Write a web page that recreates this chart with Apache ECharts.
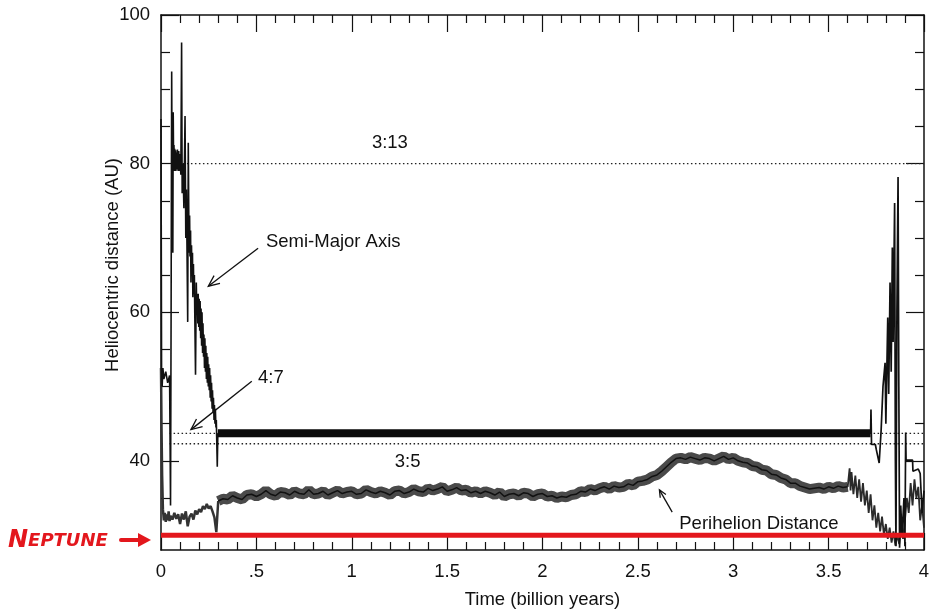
<!DOCTYPE html>
<html>
<head>
<meta charset="utf-8">
<script src="https://cdn.jsdelivr.net/npm/echarts@6/dist/echarts.min.js"></script>
<style>
  html, body { margin: 0; padding: 0; background: #fff; }
  #chart { width: 930px; height: 610px; }
</style>
</head>
<body>
<div id="chart"></div>
<script>
// tick labels
var xTickLabels = ['0', '.5', '1', '1.5', '2', '2.5', '3', '3.5', '4'];
var yMajorTicks = [40, 60, 80, 100];
var yMinorTicks = [30, 35, 45, 50, 55, 65, 70, 75, 85, 90, 95];

// semi-major axis (AU) vs time (billion years)
var semiMajorEarly = [
  [0, 86], [0.003, 52.5], [0.006, 50], [0.01, 52.5], [0.015, 51], [0.025, 52], [0.035, 50.5], [0.045, 51.5],
  [0.05, 34], [0.053, 60], [0.056, 92.4], [0.059, 72], [0.062, 68], [0.064, 86.9], [0.066, 80.5],
  [0.068, 82.5], [0.07, 79], [0.072, 82], [0.074, 79.5], [0.076, 81.8], [0.078, 79], [0.08, 81.5],
  [0.083, 79.2], [0.086, 81.9], [0.09, 79], [0.093, 81.7], [0.096, 79], [0.1, 81.3],
  [0.104, 78.5], [0.108, 96.3], [0.111, 76], [0.115, 80], [0.12, 74], [0.126, 86.4], [0.13, 70],
  [0.133, 76.5], [0.135, 72], [0.14, 58.7], [0.143, 82.8], [0.147, 68], [0.15, 73], [0.152, 67.5],
  [0.155, 71], [0.157, 64], [0.16, 69], [0.162, 65], [0.165, 68], [0.167, 62], [0.17, 66.5],
  [0.172, 62.5], [0.175, 65], [0.177, 60], [0.181, 51.6], [0.185, 64], [0.188, 60], [0.19, 62.5],
  [0.193, 58.5], [0.195, 62.5], [0.198, 58], [0.2, 61.8], [0.203, 57.5], [0.205, 61.5], [0.208, 56.5],
  [0.21, 60.5], [0.213, 55.5], [0.215, 60], [0.218, 54.5], [0.22, 58.5], [0.223, 54], [0.225, 57],
  [0.228, 52.5], [0.23, 56.5], [0.233, 52], [0.235, 55.5], [0.238, 51], [0.24, 54.5], [0.243, 50.5],
  [0.245, 54], [0.248, 50], [0.25, 53], [0.253, 49.5], [0.255, 52.5], [0.258, 48.5], [0.26, 51.5],
  [0.263, 48], [0.265, 50.5], [0.268, 47], [0.27, 49.5], [0.273, 46.5], [0.275, 48.5], [0.278, 45.5],
  [0.28, 47.5], [0.283, 45], [0.285, 47], [0.288, 44.5], [0.29, 45.5], [0.295, 39.2], [0.298, 43.7]
];
var semiMajorBand = [[0.298, 43.7], [1, 43.7], [2, 43.7], [3, 43.7], [3.72, 43.7]];
var semiMajorLate = [
  [3.72, 43.7], [3.722, 46.9], [3.725, 42.2], [3.745, 42.2], [3.75, 41.5], [3.765, 39.7],
  [3.775, 44], [3.785, 50], [3.796, 53.2], [3.8, 45], [3.81, 59.3], [3.815, 49], [3.822, 64],
  [3.828, 52], [3.834, 68.7], [3.838, 56], [3.846, 74.7], [3.85, 40], [3.853, 28.5], [3.858, 60],
  [3.864, 78.2], [3.868, 50], [3.872, 28.3], [3.878, 34], [3.885, 30], [3.895, 35], [3.9, 28.5],
  [3.904, 43.8], [3.906, 40.1], [3.94, 40.1], [3.942, 38.6], [3.97, 38.9], [3.98, 38.3],
  [3.99, 33], [4, 36]
];

// perihelion distance (AU)
var perihelionEarly = [
  [0, 52.5], [0.003, 44], [0.006, 38], [0.01, 33.5], [0.015, 32], [0.02, 33], [0.025, 31.8],
  [0.03, 32.8], [0.035, 32], [0.04, 33.2], [0.045, 31.9], [0.05, 32.6], [0.06, 32.1], [0.07, 33],
  [0.08, 32.2], [0.09, 32.8], [0.1, 31.5], [0.11, 32.9], [0.12, 32.1], [0.13, 33.2], [0.14, 31.2],
  [0.15, 32.5], [0.16, 32.9], [0.17, 32.1], [0.18, 33.3], [0.19, 32.8], [0.2, 33.5], [0.21, 33.1],
  [0.22, 33.9], [0.23, 33.5], [0.24, 34.2], [0.25, 33.6], [0.26, 33.9], [0.27, 33.2], [0.28, 32.4],
  [0.29, 30.4], [0.3, 34.6]
];
var perihelionMain = [
  [0.3, 34.6], [0.325, 34.9], [0.35, 34.8], [0.375, 35.3], [0.4, 35.0], [0.425, 34.8], [0.45, 35.4],
  [0.475, 35.5], [0.5, 35.2], [0.525, 35.5], [0.55, 36.0], [0.575, 35.5], [0.6, 35.3], [0.625, 35.8],
  [0.65, 35.7], [0.675, 35.4], [0.7, 35.9], [0.725, 35.6], [0.75, 35.5], [0.775, 36.1], [0.8, 35.5],
  [0.825, 35.6], [0.85, 35.9], [0.875, 35.4], [0.9, 35.7], [0.925, 36.0], [0.95, 35.6], [0.975, 35.8],
  [1.0, 35.9], [1.025, 35.5], [1.05, 35.6], [1.075, 36.1], [1.1, 35.8], [1.125, 35.6], [1.15, 35.9],
  [1.175, 35.7], [1.2, 35.4], [1.225, 35.9], [1.25, 36.0], [1.275, 35.6], [1.3, 35.8], [1.325, 36.2],
  [1.35, 35.9], [1.375, 35.8], [1.4, 36.3], [1.425, 36.0], [1.45, 36.2], [1.475, 36.5], [1.5, 35.9],
  [1.525, 36.1], [1.55, 36.4], [1.575, 36.0], [1.6, 36.1], [1.625, 35.7], [1.65, 35.9], [1.675, 35.6],
  [1.7, 35.9], [1.725, 35.7], [1.75, 35.4], [1.775, 35.8], [1.8, 35.2], [1.825, 35.5], [1.85, 35.6],
  [1.875, 35.3], [1.9, 35.7], [1.925, 35.6], [1.95, 35.2], [1.975, 35.5], [2.0, 35.6], [2.025, 35.2],
  [2.05, 35.3], [2.075, 35.0], [2.1, 35.2], [2.125, 35.1], [2.15, 35.4], [2.175, 35.5], [2.2, 35.9],
  [2.225, 35.8], [2.25, 36.2], [2.275, 36.0], [2.3, 36.3], [2.325, 36.5], [2.35, 36.2], [2.375, 36.6],
  [2.4, 36.4], [2.425, 36.5], [2.45, 36.9], [2.475, 36.7], [2.5, 37.2], [2.525, 37.3], [2.55, 37.5],
  [2.575, 37.9], [2.6, 38.1], [2.625, 38.6], [2.65, 39.2], [2.675, 39.8], [2.7, 40.3], [2.725, 40.4],
  [2.75, 40.2], [2.775, 40.5], [2.8, 40.3], [2.825, 40.1], [2.85, 40.4], [2.875, 40.3], [2.9, 40.0],
  [2.925, 40.3], [2.95, 40.6], [2.975, 40.2], [3.0, 40.4], [3.025, 40.0], [3.05, 39.8], [3.075, 39.7],
  [3.1, 39.3], [3.125, 39.2], [3.15, 38.8], [3.175, 38.7], [3.2, 38.2], [3.225, 38.1], [3.25, 37.7],
  [3.275, 37.5], [3.3, 37.0], [3.325, 37.0], [3.35, 36.6], [3.375, 36.4], [3.4, 36.2], [3.425, 36.3],
  [3.45, 36.4], [3.475, 36.2], [3.5, 36.5], [3.525, 36.3], [3.55, 36.6], [3.575, 36.4], [3.6, 36.5]
];
var perihelionLate = [
  [3.6, 36.5], [3.61, 39], [3.615, 36], [3.62, 38.5], [3.63, 35.5], [3.64, 38], [3.65, 35],
  [3.66, 37.5], [3.67, 34.5], [3.68, 37], [3.69, 34], [3.7, 36], [3.71, 33], [3.72, 35.5],
  [3.73, 32], [3.74, 34], [3.75, 31], [3.76, 33], [3.77, 30.5], [3.78, 32.5], [3.79, 30],
  [3.8, 31.5], [3.81, 29.5], [3.82, 31], [3.83, 29], [3.84, 30.5], [3.85, 28.6], [3.86, 30],
  [3.87, 28.8], [3.88, 31], [3.89, 29.5], [3.9, 32], [3.91, 35], [3.92, 33], [3.93, 37],
  [3.94, 34], [3.95, 37.5], [3.96, 35], [3.97, 36.5], [3.98, 32], [3.99, 34], [4.0, 31]
];

// reference levels
var neptune = [[0, 30], [4, 30]];
var res3to13 = [[0.115, 80], [4, 80]];
var res4to7 = [[0.045, 43.7], [4, 43.7]];
var res3to5 = [[0.045, 42.3], [4, 42.3]];

var FONT = '"Liberation Sans", Arial, sans-serif';
var FS = 18.5;
var INK = '#111';

var chart = echarts.init(document.getElementById('chart'));

function xAxisDef(pos, withLabels) {
  return {
    type: 'value', position: pos, min: 0, max: 4, interval: 0.5,
    name: withLabels ? 'Time (billion years)' : '',
    nameLocation: 'middle', nameGap: 40,
    nameTextStyle: { color: INK, fontFamily: FONT, fontSize: FS },
    splitLine: { show: false },
    axisLine: { onZero: false, lineStyle: { color: INK, width: 1.5 } },
    axisTick: { inside: true, length: 17, lineStyle: { color: INK, width: 1.2 } },
    minorTick: { show: true, splitNumber: 5, length: 8, lineStyle: { color: INK, width: 1.2 } },
    axisLabel: {
      show: withLabels, margin: 12, color: INK, fontFamily: FONT, fontSize: FS,
      formatter: function (v) { return xTickLabels[Math.round(v * 2)]; }
    }
  };
}

function yAxisDef(pos, major, withLabels) {
  return {
    type: 'value', position: pos, min: 28, max: 100,
    splitLine: { show: false },
    axisLine: { show: major, onZero: false, lineStyle: { color: INK, width: 1.5 } },
    axisTick: {
      show: true, inside: true, length: major ? 18 : 9,
      customValues: major ? yMajorTicks : yMinorTicks,
      lineStyle: { color: INK, width: 1.2 }
    },
    axisLabel: {
      show: withLabels, margin: 11, color: INK, fontFamily: FONT, fontSize: FS,
      customValues: yMajorTicks
    }
  };
}

function lineSeries(data, color, width, z, type) {
  return {
    type: 'line', data: data, showSymbol: false, symbol: 'none', z: z, silent: true,
    animation: false,
    lineStyle: { color: color, width: width, type: type || 'solid', join: 'bevel' }
  };
}

var option = {
  backgroundColor: '#fff',
  animation: false,
  grid: { left: 161, right: 6, top: 15, bottom: 60, outerBoundsMode: 'none', containLabel: false },
  xAxis: [xAxisDef('bottom', true), xAxisDef('top', false)],
  yAxis: [
    yAxisDef('left', true, true), yAxisDef('left', false, false),
    yAxisDef('right', true, false), yAxisDef('right', false, false)
  ],
  series: [
    lineSeries(res3to13, '#222', 1.3, 1, [1.5, 2.5]),
    lineSeries(res4to7, '#222', 1.3, 1, [1.5, 2.5]),
    lineSeries(res3to5, '#222', 1.3, 1, [1.5, 2.5]),
    lineSeries(perihelionEarly, '#333', 2.5, 3),
    lineSeries(perihelionMain, '#4a4a4a', 10, 3),
    lineSeries(perihelionMain, '#111', 1.5, 3),
    lineSeries(perihelionLate, '#2a2a2a', 1.8, 3),
    lineSeries(semiMajorEarly, INK, 1.6, 4),
    lineSeries(semiMajorBand, '#0a0a0a', 8, 4),
    lineSeries(semiMajorLate, INK, 1.7, 4),
    lineSeries(neptune, '#e3171d', 5, 6)
  ]
};
chart.setOption(option);

// annotations placed in data coordinates
function px(p) { return chart.convertToPixel({ xAxisIndex: 0, yAxisIndex: 0 }, p); }

function label(text, p, align) {
  var q = px(p);
  return {
    type: 'text', x: q[0], y: q[1], z: 20,
    style: { text: text, fill: INK, font: FS + 'px ' + FONT, align: align || 'center', verticalAlign: 'middle' }
  };
}

function arrow(from, to, color, width, headLen) {
  var a = px(from), b = px(to);
  var dx = b[0] - a[0], dy = b[1] - a[1];
  var len = Math.sqrt(dx * dx + dy * dy);
  var ux = dx / len, uy = dy / len;
  var ang = 0.42;
  var h1 = [b[0] - headLen * (ux * Math.cos(ang) - uy * Math.sin(ang)), b[1] - headLen * (uy * Math.cos(ang) + ux * Math.sin(ang))];
  var h2 = [b[0] - headLen * (ux * Math.cos(ang) + uy * Math.sin(ang)), b[1] - headLen * (uy * Math.cos(ang) - ux * Math.sin(ang))];
  return [
    { type: 'line', z: 20, shape: { x1: a[0], y1: a[1], x2: b[0], y2: b[1] }, style: { stroke: color, lineWidth: width } },
    { type: 'polyline', z: 20, shape: { points: [h1, b, h2] }, style: { stroke: color, lineWidth: width, fill: null } }
  ];
}

var graphics = [
  label('3:13', [1.2, 82.8]),
  label('Semi-Major Axis', [0.55, 69.4], 'left'),
  label('4:7', [0.576, 51.2]),
  label('3:5', [1.293, 39.9]),
  label('Perihelion Distance', [2.717, 31.5], 'left')
]
  .concat(arrow([0.509, 68.6], [0.248, 63.5], INK, 1.3, 12))
  .concat(arrow([0.476, 50.7], [0.157, 44.2], INK, 1.3, 12))
  .concat(arrow([2.68, 33.1], [2.613, 36.1], INK, 1.3, 8));

// y-axis title, sitting a little above the middle of the frame
graphics.push({
  type: 'text', x: 113, y: 265, rotation: Math.PI / 2, z: 20,
  style: { text: 'Heliocentric distance (AU)', fill: INK, font: FS + 'px ' + FONT, align: 'center', verticalAlign: 'middle' }
});

// hand-lettered Neptune marker outside the frame
graphics.push({
  type: 'text', x: 8, y: 541, z: 20,
  style: {
    text: '{big|N}{small|EPTUNE}',
    verticalAlign: 'middle',
    rich: {
      big: { fill: '#e3171d', font: 'italic bold 24px "DejaVu Sans", sans-serif' },
      small: { fill: '#e3171d', font: 'italic bold 18px "DejaVu Sans", sans-serif' }
    }
  }
});
graphics.push({ type: 'line', z: 20, shape: { x1: 121, y1: 540, x2: 141, y2: 540 }, style: { stroke: '#e3171d', lineWidth: 4, lineCap: 'round' } });
graphics.push({ type: 'polygon', z: 20, shape: { points: [[138, 533], [151, 540], [138, 547]] }, style: { fill: '#e3171d' } });

chart.setOption({ graphic: graphics });
</script>
</body>
</html>
